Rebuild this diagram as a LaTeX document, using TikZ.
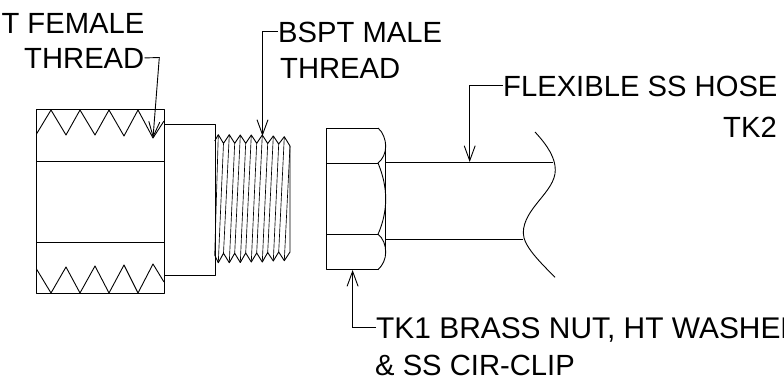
\documentclass[tikz,border=0pt]{standalone}
\usepackage{fontspec}
\setmainfont{Liberation Sans}
\usetikzlibrary{arrows.meta}

\tikzset{
  part/.style={line width=0.9pt, line join=round},
  leader/.style={line width=0.9pt, -{Straight Barb[length=15pt,width=11pt,line width=0.9pt]}},
  callout/.style={inner sep=0pt, text depth=0pt, font=\fontsize{29.2}{35}\selectfont}
}

\begin{document}
\begin{tikzpicture}[x=1pt, y=-1pt]
  \clip (0,0) rectangle (784,381);
  % labels
  \node[callout, anchor=base east] (femalea) at (144.5, 33) {T FEMALE};
  \node[callout, anchor=base east] (femaleb) at (144.5, 68) {THREAD};
  \node[callout, anchor=base west] (malea) at (278, 42) {BSPT MALE};
  \node[callout, anchor=base west] (maleb) at (280, 78) {THREAD};
  \node[callout, anchor=base west] (hose) at (503, 96) {FLEXIBLE SS HOSE};
  \node[callout, anchor=base west] (tktwo) at (723, 137) {TK2};
  \node[callout, anchor=base west, font=\fontsize{29.9}{35}\selectfont] (nuta) at (376, 338) {TK1 BRASS NUT, HT WASHER};
  \node[callout, anchor=base west] (nutb) at (375, 375) {\& SS CIR-CLIP};
  % female end
  \draw[part] (36.5,109) rectangle (164,293.5);
  \draw[part] (36.5,161) -- (164,161);
  \draw[part] (36.5,242) -- (164,242);
  \draw[part] (36.5,134) -- (51,110) -- (66,135) -- (80,110) -- (95,135) -- (109,110) -- (124,136) -- (138,110) -- (153,138) -- (164,121);
  \draw[part] (36.5,269) -- (51,293) -- (66,267) -- (80,293) -- (95,266) -- (109,293) -- (124,265) -- (138,293) -- (153,264) -- (164,282);
  \draw[part] (164,124) -- (215,124) -- (215,275) -- (164,275);
  % male thread
  \draw[part] (214.7,141) -- (218.3,134.7) -- (223.5,143.3) -- (229.3,134.7) -- (234.7,143.3) -- (240.3,135) -- (245.7,143.3) -- (251.3,135) -- (256.7,143.3) -- (262.3,135) -- (267.7,143.5) -- (273.3,136) -- (278.7,144) -- (284.3,136.7) -- (290,146) -- (290,252);
  \draw[part] (214.7,255) -- (218.3,262.7) -- (223.5,253.3) -- (229.3,262.7) -- (234.7,253.3) -- (240.3,262.5) -- (245.7,253) -- (251.3,262) -- (256.7,253) -- (262.3,262) -- (267.7,252.5) -- (273.3,261) -- (278.7,252) -- (284.3,260.7) -- (290,252);
  \foreach \k/\xa/\ya/\xb/\yb in {
    1/218.3/134.7/214.7/255,
    2/223.5/143.3/218.3/262.7,
    3/229.3/134.7/223.5/253.3,
    4/234.7/143.3/229.3/262.7,
    5/240.3/135/234.7/253.3,
    6/245.7/143.3/240.3/262.5,
    7/251.3/135/245.7/253,
    8/256.7/143.3/251.3/262,
    9/262.3/135/256.7/253,
    10/267.7/143.5/262.3/262,
    11/273.3/136/267.7/252.5,
    12/278.7/144/273.3/261,
    13/284.3/136.7/278.7/252,
    14/290/146/284.3/260.7}
    \draw[line width=0.65pt] (\xa,\ya) -- (\xb,\yb);
  % nut
  \draw[part] (378,128) -- (326.7,128) -- (326.7,269.7) -- (378,269.7);
  \draw[part] (326.7,163) -- (378,163);
  \draw[part] (326.7,234.3) -- (378,234.3);
  \draw[part] (378,128) .. controls (383,132) and (385.7,140) .. (385.7,146) .. controls (385.7,153) and (383,159) .. (378,163);
  \draw[part] (378,163) .. controls (383,175) and (385.7,187) .. (385.7,199) .. controls (385.7,211) and (383,223) .. (378,234.3);
  \draw[part] (378,234.3) .. controls (383,238) and (385.7,245) .. (385.7,252) .. controls (385.7,259) and (383,265) .. (378,269.7);
  \draw[part] (385.7,146) -- (385.7,252);
  % hose
  \draw[part] (385.7,162) -- (553,162);
  \draw[part] (385.7,239.7) -- (523.3,239.7);
  \draw[part] (535,132) .. controls (548,146) and (555.3,158) .. (555.3,170) .. controls (555.3,192) and (523.3,208) .. (523.3,233) .. controls (523.3,246) and (540,262) .. (555,277.3);
  % leaders
  \coordinate (femalebend) at (159.3,57.5);
  \coordinate (femaletip) at (153,138);
  \coordinate (maletip) at (262.5,136);
  \coordinate (hosetip) at (469.7,162);
  \coordinate (nuttip) at (352.6,270);
  \draw[leader] (femaleb.east) -- (femalebend) -- (femaletip);
  \draw[leader] (malea.west) -| (maletip);
  \draw[leader] (hose.west) -| (hosetip);
  \draw[leader] (nuta.west) -| (nuttip);
\end{tikzpicture}
\end{document}
